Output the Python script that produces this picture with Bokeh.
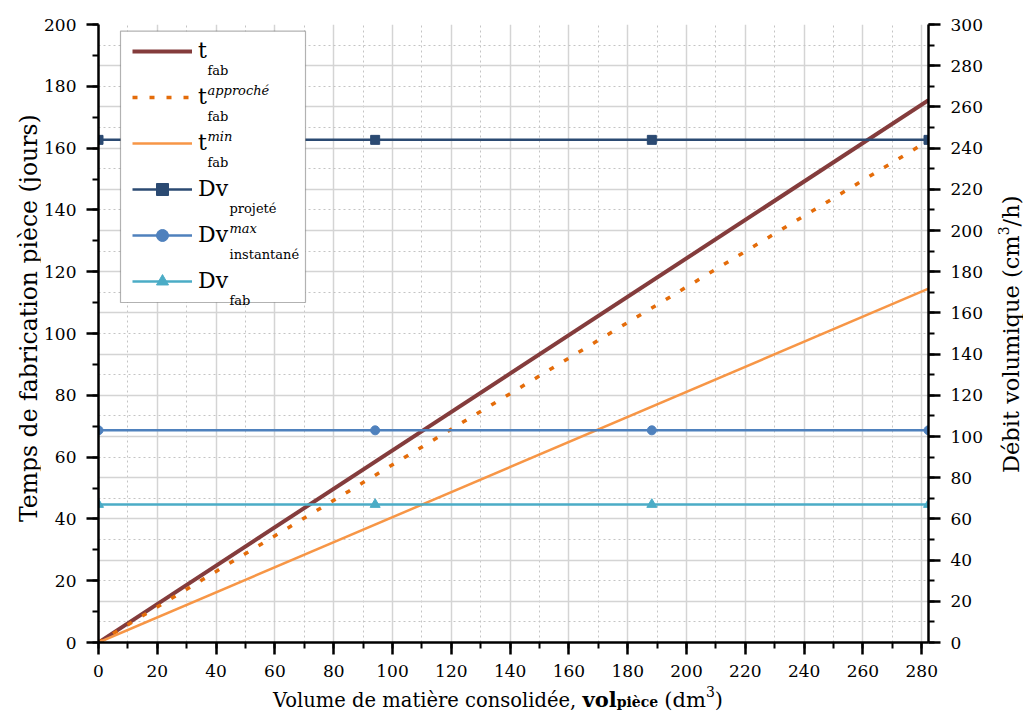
from bokeh.plotting import figure
from bokeh.models import (Range1d, LinearAxis, Grid, SingleIntervalTicker, Label,
                          Legend, LegendItem, BoxAnnotation, Div)
from bokeh.layouts import column, row
from bokeh.embed import file_html
from bokeh.resources import INLINE

# ---- data ----
vol = [0, 282.3]                      # dm3
t_fab = [0, 175.5]                    # jours
t_fab_approche = [0, 162.4]
t_fab_min = [0, 114.5]
vol_markers = [0, 94.1, 188.2, 282.3]
dv_projete = [244, 244, 244, 244]     # cm3/h
dv_max_instantane = [103, 103, 103, 103]
dv_fab = [67, 67, 67, 67]

FONT = "DejaVu Serif"
LEFT_W = 40
FIG_H = 692
FIG_W = 990 - LEFT_W

p = figure(width=FIG_W, height=FIG_H, x_range=Range1d(0, 282.3), y_range=Range1d(0, 200),
           output_backend="svg", toolbar_location=None,
           min_border_left=98 - LEFT_W, min_border_right=FIG_W + LEFT_W - 928, min_border_top=24,
           min_border_bottom=FIG_H - 642)
p.extra_y_ranges = {"right": Range1d(0, 300)}
p.outline_line_color = None
p.background_fill_color = "white"

# grids
p.xgrid.ticker = SingleIntervalTicker(interval=20, num_minor_ticks=2)
p.xgrid.grid_line_color = "#d4d4d4"
p.xgrid.grid_line_width = 1.5
p.xgrid.minor_grid_line_color = "#c4c4c4"
p.xgrid.minor_grid_line_dash = "2 3"
p.xgrid.minor_grid_line_width = 1
p.ygrid.visible = False
hgrid = Grid(dimension=1, ticker=SingleIntervalTicker(interval=20, num_minor_ticks=2),
             y_range_name="right", grid_line_color="#d4d4d4", grid_line_width=1.5,
             minor_grid_line_color="#c4c4c4", minor_grid_line_dash="2 3", minor_grid_line_width=1)
p.add_layout(hgrid)

# axes
raxis = LinearAxis(y_range_name="right")
p.add_layout(raxis, "right")
p.xaxis.ticker = SingleIntervalTicker(interval=20, num_minor_ticks=2)
p.yaxis[0].ticker = SingleIntervalTicker(interval=20, num_minor_ticks=2)
raxis.ticker = SingleIntervalTicker(interval=20, num_minor_ticks=2)
for ax in [p.xaxis[0], p.yaxis[0], raxis]:
    ax.axis_line_width = 2.5
    ax.axis_line_color = "black"
    ax.major_tick_out = 12
    ax.major_tick_in = 0
    ax.minor_tick_out = 6
    ax.minor_tick_in = 0
    ax.major_tick_line_width = 2.5
    ax.minor_tick_line_width = 2
    ax.major_tick_line_color = "black"
    ax.minor_tick_line_color = "black"
    ax.major_label_text_font = FONT
    ax.major_label_text_font_size = "17px"
    ax.major_label_text_color = "black"
    ax.major_label_standoff = 10

# glyphs
r1 = p.line(vol, t_fab, line_color="#843C3C", line_width=4)
r2 = p.line(vol, t_fab_approche, line_color="#E46C0A", line_width=3.5, line_dash="5 12")
r3 = p.line(vol, t_fab_min, line_color="#F79646", line_width=2.5)
c4, c5, c6 = "#2B4A72", "#4F81BD", "#4BACC6"
r4 = p.line(vol_markers, dv_projete, y_range_name="right", line_color=c4, line_width=2.5)
m4 = p.scatter(vol_markers, dv_projete, y_range_name="right", marker="square", size=9,
               fill_color=c4, line_color=c4)
r5 = p.line(vol_markers, dv_max_instantane, y_range_name="right", line_color=c5, line_width=2.5)
m5 = p.scatter(vol_markers, dv_max_instantane, y_range_name="right", marker="circle", size=9,
               fill_color=c5, line_color=c5)
r6 = p.line(vol_markers, dv_fab, y_range_name="right", line_color=c6, line_width=2.5)
m6 = p.scatter(vol_markers, dv_fab, y_range_name="right", marker="triangle", size=10,
               fill_color=c6, line_color=c6)

# helpers: page px -> frame screen units
def fy(page_y):
    return 642 - page_y
def fx(page_x):
    return page_x - 98

box = BoxAnnotation(left=fx(120), right=fx(305), top=fy(30.7), bottom=fy(302),
                    left_units="screen", right_units="screen", top_units="screen", bottom_units="screen",
                    fill_color="white", fill_alpha=1, line_color="black", line_width=1.2, level="annotation")
p.add_layout(box)

items = [LegendItem(label="t", renderers=[r1]),
         LegendItem(label="t", renderers=[r2]),
         LegendItem(label="t", renderers=[r3]),
         LegendItem(label="Dv", renderers=[r4, m4]),
         LegendItem(label="Dv", renderers=[r5, m5]),
         LegendItem(label="Dv", renderers=[r6, m6])]
PITCH = 46
first_c = 50.7
leg_h = 6 * 30 + 5 * 16
legend = Legend(items=items, location=(fx(132), fy(first_c - 15) - leg_h), padding=0, spacing=16,
                glyph_width=60, glyph_height=30, label_height=30, label_width=100, label_standoff=6,
                label_text_font=FONT, label_text_font_size="22px", label_text_color="black",
                border_line_color=None, background_fill_alpha=0, margin=0)
p.add_layout(legend)

centers = [first_c + i * PITCH for i in range(6)]
subs = ["fab", "fab", "fab", "projeté", "instantané", "fab"]
sups = [None, "approché", "min", None, "max", None]
for i, c in enumerate(centers):
    x0 = 207 if i < 3 else 229
    p.add_layout(Label(x=fx(x0), y=fy(c + 19), x_units="screen", y_units="screen", text=subs[i],
                       text_font=FONT, text_font_size="13px", text_baseline="alphabetic",
                       text_color="black"))
    if sups[i]:
        p.add_layout(Label(x=fx(x0), y=fy(c - 7), x_units="screen", y_units="screen", text=sups[i],
                           text_font=FONT, text_font_size="13px", text_font_style="italic",
                           text_baseline="alphabetic", text_color="black"))

# x axis title (rich text) below the figure
xtitle = Div(
    text=('<div style="font-family:\'DejaVu Serif\'; font-size:19.5px; color:black; '
          'white-space:nowrap; padding-left:233px; margin-top:-3px; line-height:22px;">'
          'Volume de matière consolidée, <b style="font-size:21px;">vol</b>'
          '<b style="font-size:14px;">pièce</b> <span style="font-size:21px;">(dm'
          '<span style="font-size:14px; position:relative; top:-10px;">3</span>)</span></div>'),
    width=FIG_W, height=722 - FIG_H, margin=0)

# left axis title (rotated, reading bottom to top)
ltitle = Div(
    text=('<div style="position:absolute; left:16px; top:522px; transform:rotate(-90deg); '
          'transform-origin:0 0; white-space:nowrap; font-family:\'DejaVu Serif\'; '
          'font-size:23.5px; line-height:26px; color:black;">'
          'Temps de fabrication pièce (jours)</div>'),
    width=LEFT_W, height=722, margin=0)

# right axis title (rotated, reading bottom to top)
rtitle = Div(
    text=('<div style="position:absolute; left:9px; top:473px; transform:rotate(-90deg); '
          'transform-origin:0 0; white-space:nowrap; font-family:\'DejaVu Serif\'; '
          'font-size:22.5px; line-height:24px; color:black;">'
          'Débit volumique (cm<span style="font-size:14px; position:relative; top:-10px;">3</span>/h)'
          '</div>'),
    width=1023 - FIG_W - LEFT_W, height=722, margin=0)

layout = row(ltitle, column(p, xtitle, spacing=0), rtitle, spacing=0)
open("out.html", "w").write(file_html(layout, INLINE))
